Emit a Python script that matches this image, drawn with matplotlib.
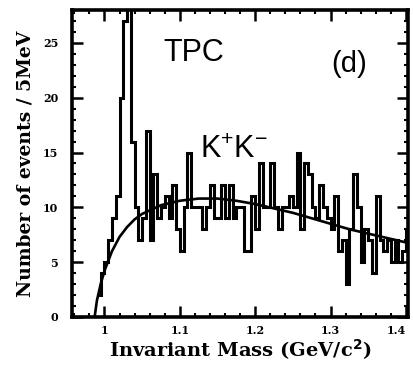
import numpy as np
import matplotlib.pyplot as plt
from matplotlib.ticker import MultipleLocator

# K+K- invariant mass spectrum, 5 MeV bins starting at 0.990 GeV
bin_width = 0.005
first_edge = 0.990
counts = [2, 4, 5, 7, 9, 11, 20, 27, 30, 16,
          10, 7, 9, 17, 7, 13, 9, 10, 11, 9,
          12, 8, 6, 10, 15, 10, 10, 10, 8, 10,
          12, 9, 9, 12, 9, 12, 9, 10, 10, 6,
          6, 11, 8, 14, 10, 10, 14, 10, 8, 10,
          10, 11, 10, 15, 8, 14, 13, 10, 9, 12,
          10, 9, 8, 11, 6, 7, 3, 8, 13, 10,
          5, 8, 7, 4, 11, 7, 6, 7, 5, 7,
          5, 6, 8, 6]

# smooth background fit
fit_mass = [0.987, 0.990, 0.995, 1.000, 1.010, 1.020, 1.030, 1.040, 1.050,
            1.075, 1.100, 1.125, 1.150, 1.175, 1.200, 1.225, 1.250, 1.275,
            1.300, 1.325, 1.350, 1.375, 1.400, 1.410]
fit_vals = [0.0, 1.5, 3.0, 4.2, 6.0, 7.3, 8.2, 8.9, 9.4,
            10.2, 10.6, 10.8, 10.8, 10.6, 10.3, 9.9, 9.5, 9.0,
            8.5, 8.0, 7.6, 7.2, 6.8, 6.6]

xticks = [1.0, 1.1, 1.2, 1.3, 1.4]
xticklabels = ['1', '1.1', '1.2', '1.3', '1.4']
yticks = [0, 5, 10, 15, 20, 25]

edges = first_edge + bin_width * np.arange(len(counts) + 1)

fig = plt.figure(figsize=(4.14, 3.72), dpi=100)
ax = fig.add_axes([0.174, 0.148, 0.812, 0.825])

ax.stairs(counts, edges, color='black', linewidth=2.2, baseline=None)
ax.plot(fit_mass, fit_vals, color='black', linewidth=1.9)

ax.set_xlim(0.957, 1.403)
ax.set_ylim(0, 28)

for sp in ax.spines.values():
    sp.set_linewidth(2.6)

serif = {'family': 'DejaVu Serif', 'weight': 'bold'}
ax.set_xticks(xticks)
ax.set_xticklabels(xticklabels, fontdict=serif, fontsize=8)
ax.get_xticklabels()[-1].set_ha('right')   # keep "1.4" inside the figure
ax.set_yticks(yticks)
ax.set_yticklabels([str(v) for v in yticks], fontdict=serif, fontsize=8)
ax.xaxis.set_minor_locator(MultipleLocator(0.02))
ax.yaxis.set_minor_locator(MultipleLocator(1))
ax.tick_params(which='major', direction='in', length=8, width=1.8,
               top=True, right=True)
ax.tick_params(which='minor', direction='in', length=3, width=1.5,
               top=True, right=True)
ax.tick_params(axis='y', which='major', pad=10)
ax.tick_params(axis='x', which='major', pad=6)

ax.set_xlabel('Invariant Mass (GeV/c$^{\\mathbf{2}}$)', fontdict=serif, fontsize=14,
              labelpad=1)
ax.set_ylabel('Number of events / 5MeV', fontdict=serif, fontsize=13.5, labelpad=6)

sans = 'Liberation Sans'
ax.text(1.118, 24.1, 'TPC', family=sans, fontsize=22, ha='center', va='center')
ax.text(1.324, 23.1, '(d)', family=sans, fontsize=21, ha='center', va='center')
ax.text(1.172, 15.2, r'$\mathregular{K^{+}K^{-}}$', family=sans, fontsize=22,
        ha='center', va='center')

fig.savefig('out.png', dpi=100)
